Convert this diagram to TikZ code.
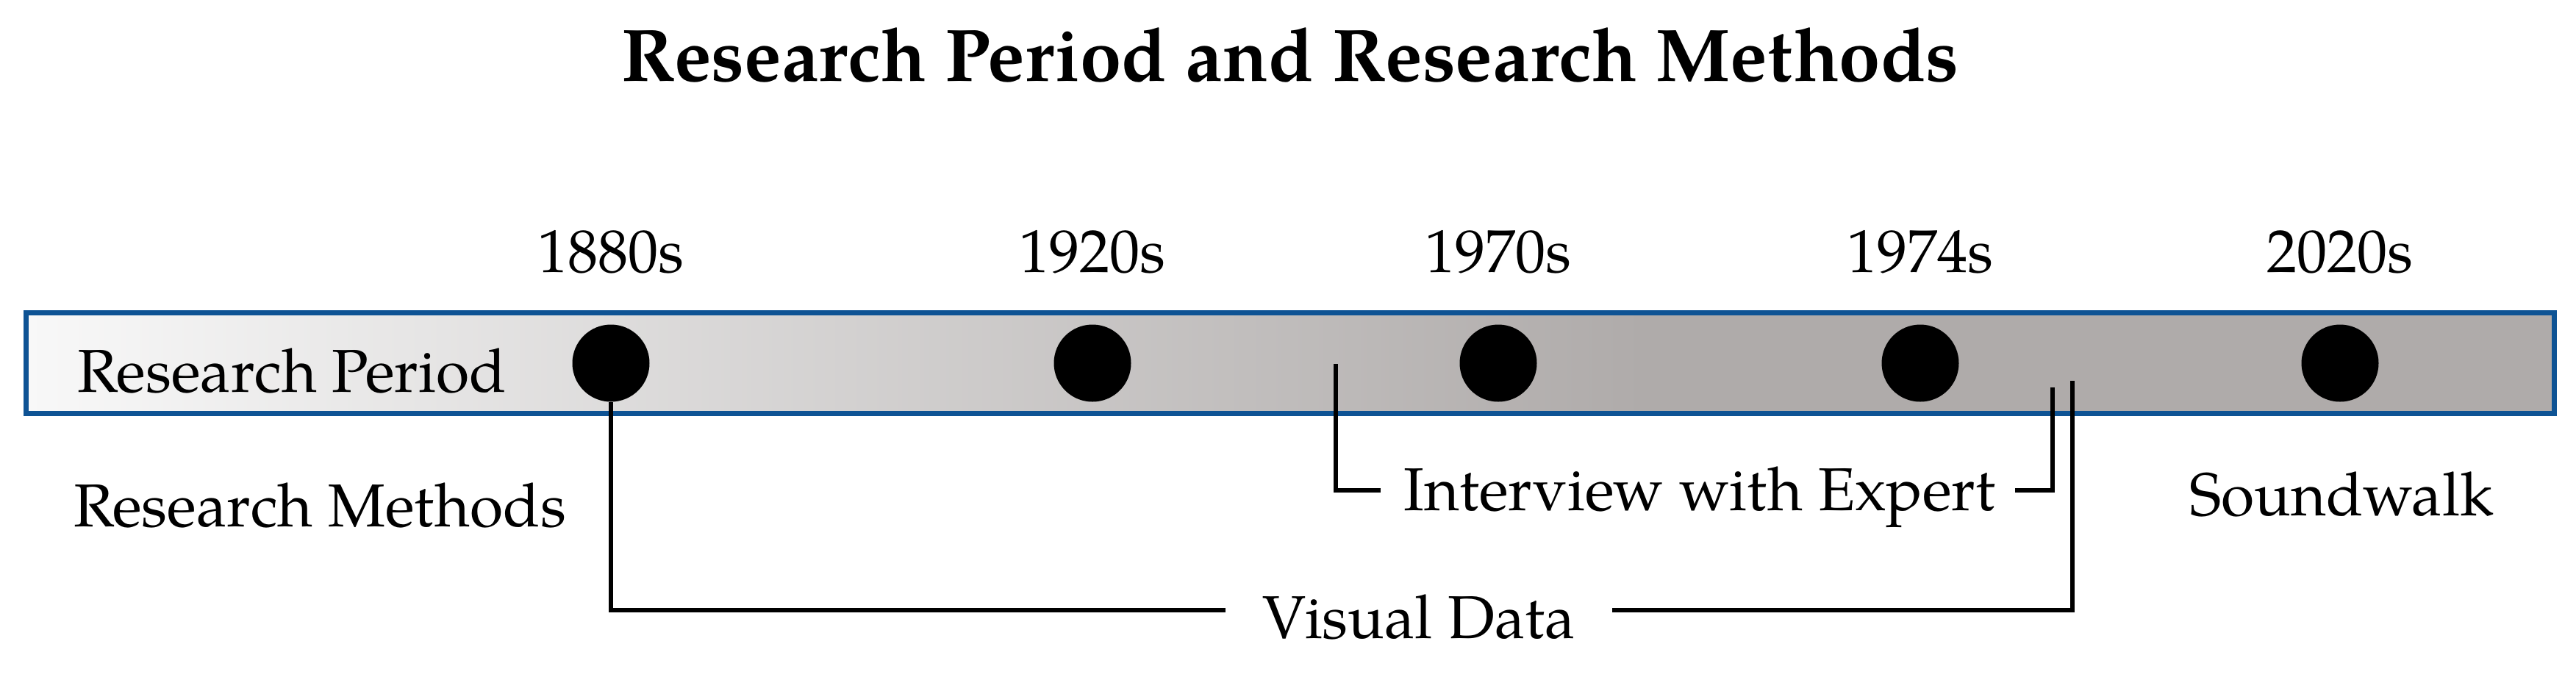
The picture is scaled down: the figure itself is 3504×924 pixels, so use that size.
\documentclass[tikz,border=0pt]{standalone}
\usepackage{fontspec}
\setmainfont{texgyrepagella}[Extension=.otf,UprightFont=*-regular,BoldFont=*-bold,ItalicFont=*-italic,BoldItalicFont=*-bolditalic]
\definecolor{barblue}{HTML}{0E5394}
\definecolor{barlight}{HTML}{F8F8F8}
\definecolor{bargray}{HTML}{AFABAA}
\begin{document}
\begin{tikzpicture}[x=0.25pt,y=-0.25pt,
  txt/.style={inner sep=0pt,anchor=base,font=\fontsize{20.6}{24}\selectfont},
  titletxt/.style={inner sep=0pt,anchor=base,font=\fontsize{25.3}{30}\bfseries\selectfont},
  dot/.style={circle,fill=black,inner sep=0pt,minimum size=26.25pt},
  barframe/.style={draw=barblue,line width=1.75pt},
  conn/.style={line width=1.5pt,black}]
\useasboundingbox (0,0) rectangle (3504,924);
% title
\node[titletxt] (title) at (1755,110) {Research Period and Research Methods};
% bar
\path node[inner sep=0pt,minimum width=859.25pt,minimum height=33.75pt] (bar) at (1755,494) {};
\shade[left color=barlight,right color=bargray] (bar.north west) rectangle (2236,561.5);
\fill[bargray] (2236,426.5) rectangle (bar.south east);
\draw[barframe] (bar.north west) rectangle (bar.south east);
% labels
\node[txt] (rp) at (397,533) {Research Period};
\node[txt] (rm) at (435,716) {Research Methods};
\node[txt] (iwe) at (2312,694) {Interview with Expert};
\node[txt] (vd) at (1930,868) {Visual Data};
\node[txt] (sw) at (3185,701) {Soundwalk};
% years
\node[txt] (y1) at (831,370) {1880s};
\node[txt] (y2) at (1486,370) {1920s};
\node[txt] (y3) at (2038,370) {1970s};
\node[txt] (y4) at (2612,370) {1974s};
\node[txt] (y5) at (3183,370) {2020s};
% dots
\node[dot] (d1) at (831,494) {};
\node[dot] (d2) at (1486,494) {};
\node[dot] (d3) at (2038,494) {};
\node[dot] (d4) at (2612,494) {};
\node[dot] (d5) at (3183,494) {};
% visual data bracket
\coordinate (vdy) at (0,830);
\coordinate (vdtop) at (2819,518);
\coordinate (vdl) at ([xshift=-12.5pt]vd.west);
\coordinate (vdr) at ([xshift=12.5pt]vd.east);
\draw[conn] (d1.south) -- (d1.south |- vdy) -- (vdl |- vdy);
\draw[conn] (vdr |- vdy) -- (vdtop |- vdy) -- (vdtop);
% interview bracket
\coordinate (iwy) at (0,667);
\coordinate (iwlt) at (1817,495);
\coordinate (iwrt) at (2792,527);
\coordinate (iwl) at ([xshift=-7.75pt]iwe.west);
\coordinate (iwr) at ([xshift=6.5pt]iwe.east);
\draw[conn] (iwlt) -- (iwlt |- iwy) -- (iwl |- iwy);
\draw[conn] (iwr |- iwy) -- (iwrt |- iwy) -- (iwrt);
\end{tikzpicture}
\end{document}
